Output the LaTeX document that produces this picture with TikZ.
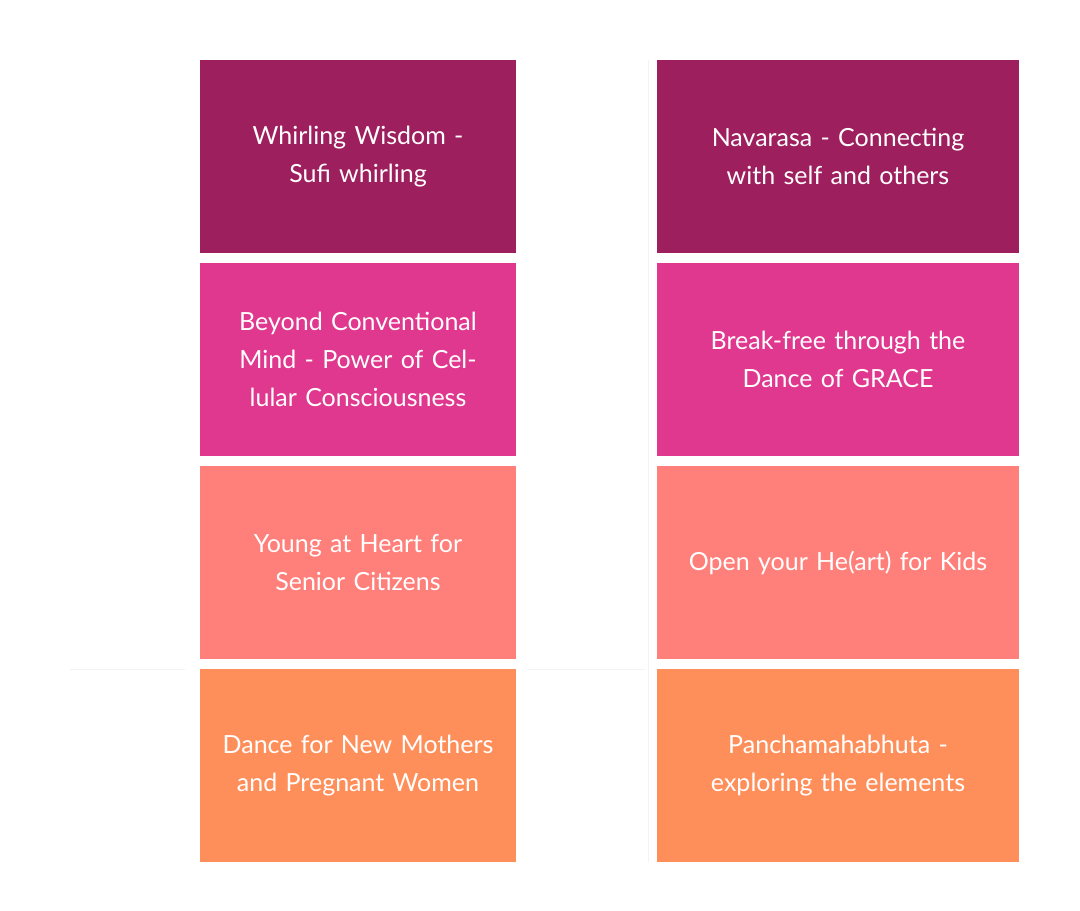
\documentclass[tikz,border=0pt]{standalone}
\usepackage{fontspec}
\setmainfont{Lato}
\definecolor{plum}{HTML}{9E1F5E}
\definecolor{rose}{HTML}{E0388F}
\definecolor{salmon}{HTML}{FF7F7A}
\definecolor{apricot}{HTML}{FF8F5A}
\definecolor{faint}{HTML}{F3F3F3}
\tikzset{
  card/.style={draw=none,text=white,align=center,minimum height=193pt,
    inner sep=4pt,font=\fontsize{25}{38}\selectfont},
  leftcard/.style={card,minimum width=316pt,text width=300pt},
  rightcard/.style={card,minimum width=362pt,text width=346pt}
}
\begin{document}
\begin{tikzpicture}[x=1pt,y=-1pt]
  \useasboundingbox (0,0) rectangle (1080,911);

  \draw[faint] (648,60) -- (648,862);
  \draw[faint] (70,669) -- (185,669);
  \draw[faint] (527,669) -- (645,669);

  \node[leftcard,fill=plum] (l1) at (358,156.5) {Whirling Wisdom -\\Sufi whirling};
  \node[leftcard,fill=rose] (l2) at (358,359.5) {Beyond Conventional Mind - Power of Cellular Consciousness};
  \node[leftcard,fill=salmon] (l3) at (358,562.5) {Young at Heart for\\Senior Citizens};
  \node[leftcard,fill=apricot] (l4) at (358,765.5) {Dance for New Mothers and Pregnant Women};

  \node[rightcard,fill=plum] (r1) at (838,156.5) {Navarasa - Connecting\\with self and others};
  \node[rightcard,fill=rose] (r2) at (838,359.5) {Break-free through the\\Dance of GRACE};
  \node[rightcard,fill=salmon] (r3) at (838,562.5) {Open your He(art) for Kids};
  \node[rightcard,fill=apricot] (r4) at (838,765.5) {Panchamahabhuta -\\exploring the elements};
\end{tikzpicture}
\end{document}
